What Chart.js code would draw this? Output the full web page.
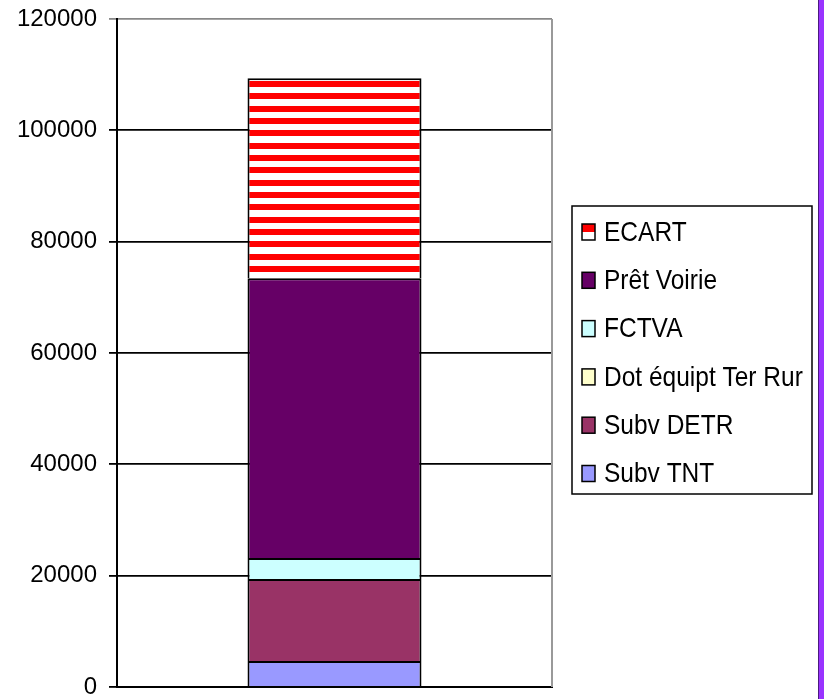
<!DOCTYPE html>
<html>
<head>
<meta charset="utf-8">
<script src="https://cdn.jsdelivr.net/npm/chart.js@4/dist/chart.umd.min.js"></script>
<style>
  body { margin: 0; background: #fff; }
</style>
</head>
<body>
<canvas id="chart" width="825" height="699"></canvas>
<script>
// data (bottom to top of the stack)
const categories = [""];
const seriesNames = ["Subv TNT", "Subv DETR", "Dot équipt Ter Rur", "FCTVA", "Prêt Voirie", "ECART"];
const subvTNT = [4670];
const subvDETR = [14730];
const dotEquipt = [0];
const fctva = [3770];
const pretVoirie = [50250];
const ecart = [35930];
const yMax = 120000;
const yStep = 20000;

const FONT = '"Liberation Sans", Arial, sans-serif';

// red / white horizontal stripes for ECART
const tile = document.createElement("canvas");
tile.width = 8;
tile.height = 37;
const tctx = tile.getContext("2d");
tctx.fillStyle = "#fff";
tctx.fillRect(0, 0, 8, 37);
tctx.fillStyle = "#ff0000";
[0, 12, 25].forEach(y => tctx.fillRect(0, y, 8, 6));
const stripes = tctx.createPattern(tile, "repeat");
stripes.setTransform(new DOMMatrix().translate(0, 7));

const colors = ["#9999ff", "#993366", "#ffffcc", "#ccffff", "#660066", stripes];
const values = [subvTNT, subvDETR, dotEquipt, fctva, pretVoirie, ecart];

const datasets = seriesNames.map((name, i) => ({
  label: name,
  data: values[i],
  backgroundColor: colors[i],
  borderColor: "#000",
  borderWidth: 2,
  categoryPercentage: 0.4,
  barPercentage: 1
}));

const framePlugin = {
  id: "frame",
  beforeDatasetsDraw(chart) {
    const { ctx, chartArea: a } = chart;
    ctx.save();
    ctx.strokeStyle = "#999";
    ctx.lineWidth = 2;
    ctx.beginPath();
    ctx.moveTo(a.right, a.top);
    ctx.lineTo(a.right, a.bottom);
    ctx.stroke();
    ctx.restore();
  },
  afterDraw(chart) {
    const ctx = chart.ctx;
    ctx.save();
    // legend box
    const bx = 572, by = 206, bw = 240, bh = 288;
    ctx.strokeStyle = "#000";
    ctx.lineWidth = 1.5;
    ctx.strokeRect(bx, by, bw, bh);
    const list = chart.data.datasets.slice().reverse();
    list.forEach((ds, i) => {
      const cy = 232 + i * 48.3;
      const mx = 582, my = cy - 8, mw = 13, mh = 16;
      if (ds.label === "ECART") {
        ctx.fillStyle = "#fff";
        ctx.fillRect(mx, my, mw, mh);
        ctx.fillStyle = "#ff0000";
        ctx.fillRect(mx, my, mw, mh / 2);
      } else {
        ctx.fillStyle = ds.backgroundColor;
        ctx.fillRect(mx, my, mw, mh);
      }
      ctx.lineWidth = 1.5;
      ctx.strokeStyle = "#000";
      ctx.strokeRect(mx, my, mw, mh);
      ctx.save();
      ctx.scale(1, 1.15);
      ctx.fillStyle = "#000";
      ctx.font = "24.5px " + FONT;
      ctx.textBaseline = "middle";
      ctx.fillText(ds.label, 604, (cy + 1) / 1.15);
      ctx.restore();
    });
    // purple rule on the right edge
    ctx.fillStyle = "#4b1a80";
    ctx.fillRect(818, 0, 1, 699);
    ctx.fillStyle = "#9933ff";
    ctx.fillRect(819, 0, 5, 699);
    ctx.restore();
  }
};

new Chart(document.getElementById("chart"), {
  type: "bar",
  data: { labels: categories, datasets: datasets },
  options: {
    responsive: false,
    animation: false,
    layout: { padding: { left: 0, top: 19, right: 273, bottom: 12 } },
    plugins: { legend: { display: false }, tooltip: { enabled: false } },
    scales: {
      x: {
        stacked: true,
        grid: { display: false },
        ticks: { display: false },
        border: { color: "#000", width: 2 },
        afterFit: s => { s.height = 0; s.paddingLeft = 0; s.paddingRight = 0; }
      },
      y: {
        stacked: true,
        min: 0,
        max: yMax,
        ticks: {
          stepSize: yStep,
          padding: 12,
          color: "#000",
          font: { family: FONT, size: 24 },
          callback: v => String(v)
        },
        grid: {
          color: c => (c.tick && c.tick.value === yMax ? "#888" : "#000"),
          lineWidth: 1.8,
          tickLength: 8
        },
        border: { color: "#000", width: 2 },
        afterFit: s => { s.width = 117; s.paddingTop = 0; s.paddingBottom = 0; }
      }
    }
  },
  plugins: [framePlugin]
});
</script>
</body>
</html>
